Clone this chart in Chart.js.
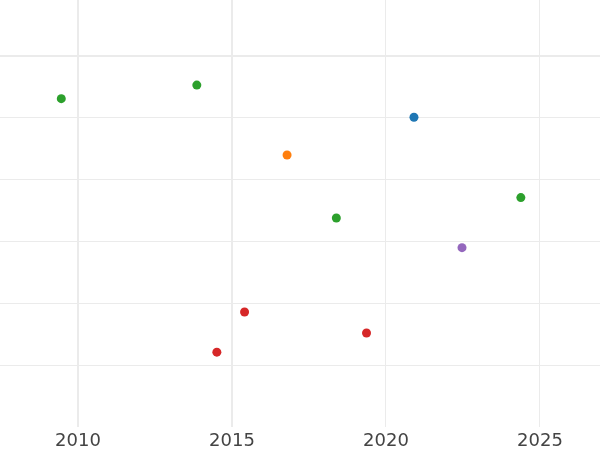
<!DOCTYPE html>
<html>
<head>
<meta charset="utf-8">
<script src="https://cdn.jsdelivr.net/npm/chart.js@4/dist/chart.umd.min.js"></script>
<style>
  html, body { margin: 0; padding: 0; background: #fff; }
  #wrap { width: 600px; height: 450px; }
</style>
</head>
<body>
<div id="wrap"><canvas id="grafico"></canvas></div>
<script>
// datos
var years  = [2009.46, 2013.86, 2016.79, 2020.91, 2018.39, 2024.38, 2022.47, 2015.41, 2014.51, 2019.37];
var values = [5.31, 5.53, 4.40, 5.01, 3.38, 3.71, 2.90, 1.86, 1.21, 1.52];
var groups = ['green', 'green', 'orange', 'blue', 'green', 'green', 'purple', 'red', 'red', 'red'];
var xTicks = [2010, 2015, 2020, 2025];
var yTicks = [1, 2, 3, 4, 5, 6];

var palette = {
    blue: '#1f77b4',
    orange: '#ff7f0e',
    green: '#2ca02c',
    red: '#d62728',
    purple: '#9467bd'
};

var puntos = years.map(function (x, i) { return { x: x, y: values[i] }; });
var colores = groups.map(function (g) { return palette[g]; });

var ctx = document.getElementById("grafico").getContext("2d");
var chart = new Chart(ctx, {
    type: 'scatter',
    data: {
        datasets: [{
            data: puntos,
            backgroundColor: colores,
            borderWidth: 0,
            pointRadius: 4.5,
            pointHoverRadius: 4.5
        }]
    },
    options: {
        responsive: true,
        maintainAspectRatio: false,
        animation: false,
        layout: { padding: 0, autoPadding: false },
        plugins: {
            legend: { display: false },
            tooltip: { enabled: false }
        },
        scales: {
            x: {
                type: 'linear',
                min: 2007.47,
                max: 2026.95,
                afterBuildTicks: function (scale) {
                    scale.ticks = xTicks.map(function (v) { return { value: v }; });
                },
                afterFit: function (scale) { scale.height = 23; },
                border: { display: false },
                grid: {
                    drawTicks: false,
                    color: '#ebebeb',
                    // las dos primeras lineas se ven mas gruesas
                    lineWidth: function (c) {
                        return (c.tick && c.tick.value <= 2015) ? 2 : 1;
                    }
                },
                ticks: {
                    padding: 4,
                    color: '#444444',
                    font: { family: 'DejaVu Sans', size: 18 },
                    callback: function (v) { return String(v); }
                }
            },
            y: {
                min: 0,
                max: 6.906,
                afterBuildTicks: function (scale) {
                    scale.ticks = yTicks.map(function (v) { return { value: v }; });
                },
                afterFit: function (scale) { scale.width = 0; },
                border: { display: false },
                grid: {
                    drawTicks: false,
                    color: '#ebebeb',
                    lineWidth: function (c) {
                        return (c.tick && c.tick.value === 6) ? 2 : 1;
                    }
                },
                ticks: { display: false }
            }
        }
    }
});
</script>
</body>
</html>
